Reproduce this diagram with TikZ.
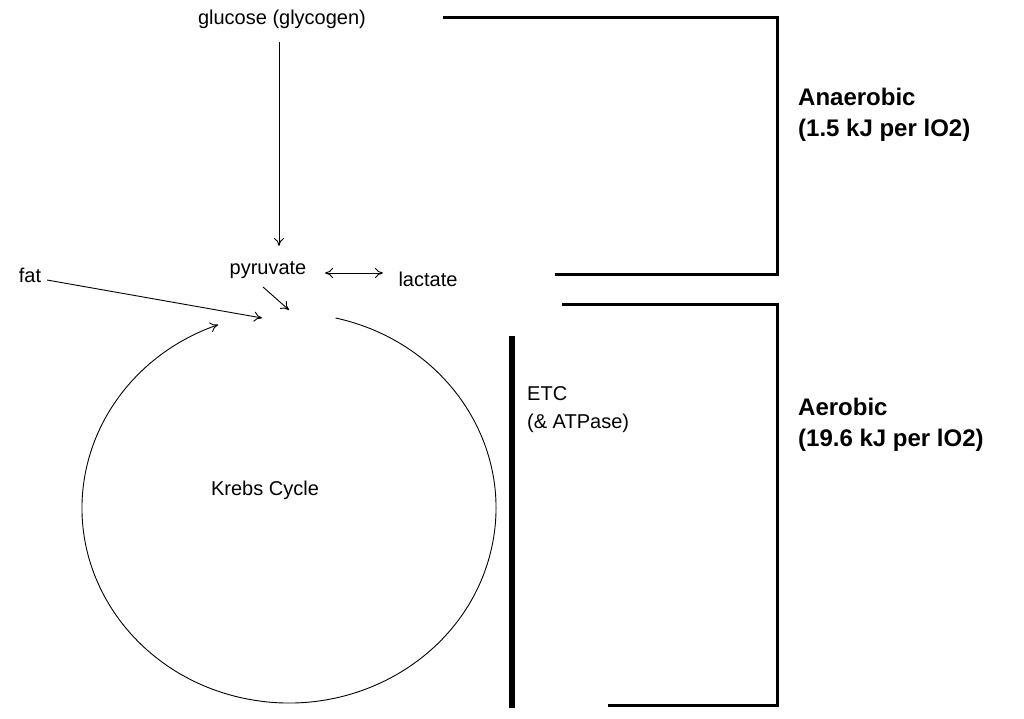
\documentclass[tikz,border=0pt]{standalone}
\usepackage{fontspec}
\setmainfont{Liberation Sans}
\usetikzlibrary{arrows.meta}
\begin{document}
\begin{tikzpicture}[x=1pt,y=1pt,
  lbl/.style={font=\fontsize{20}{28}\selectfont, inner sep=0pt},
  big/.style={font=\fontsize{24}{31}\selectfont\bfseries, inner sep=0pt, align=left, anchor=west},
  arr/.style={->, line width=0.9pt, >={To[length=8pt,width=10pt]}},
  brk/.style={line width=3pt}]
\useasboundingbox (0,0) rectangle (1024,718);
\node[lbl] (glu) at (282,699) {glucose (glycogen)};
\node[lbl] (pyr) at (268,448) {pyruvate};
\node[lbl] (lac) at (428,439) {lactate};
\node[lbl] (fat) at (30,443) {fat};
\node[lbl] (krebs) at (265,228) {Krebs Cycle};
\node[lbl, align=left, anchor=north west] (etc) at (527,332) {ETC\\(\& ATPase)};
\node[big] (ana) at (798,603) {Anaerobic\\(1.5 kJ per lO2)};
\node[big] (aer) at (798,293) {Aerobic\\(19.6 kJ per lO2)};
\coordinate (gs) at (279,676); \coordinate (ge) at (279,472);
\draw[arr] (gs) -- (ge);
\coordinate (la) at (325,445); \coordinate (lb) at (383,445);
\draw[arr,<->] (la) -- (lb);
\coordinate (pa) at (263,431); \coordinate (pb) at (289,408);
\draw[arr] (pa) -- (pb);
\coordinate (fa) at (47,438); \coordinate (fb) at (262,400);
\draw[arr] (fa) -- (fb);
\coordinate (kc) at (289,210);
\draw[arr] (kc) ++(77:207 and 195) arc[start angle=77,end angle=-250,x radius=207,y radius=195];
\coordinate (e1) at (512,382); \coordinate (e2) at (512,10);
\draw[line width=6pt] (e1) -- (e2);
\coordinate (b1) at (443,700); \coordinate (b2) at (777,700); \coordinate (b3) at (777,443); \coordinate (b4) at (555,443);
\draw[brk] (b1) -- (b2) -- (b3) -- (b4);
\coordinate (c1) at (562,413); \coordinate (c2) at (777,413); \coordinate (c3) at (777,13); \coordinate (c4) at (608,13);
\draw[brk] (c1) -- (c2) -- (c3) -- (c4);
\end{tikzpicture}
\end{document}
